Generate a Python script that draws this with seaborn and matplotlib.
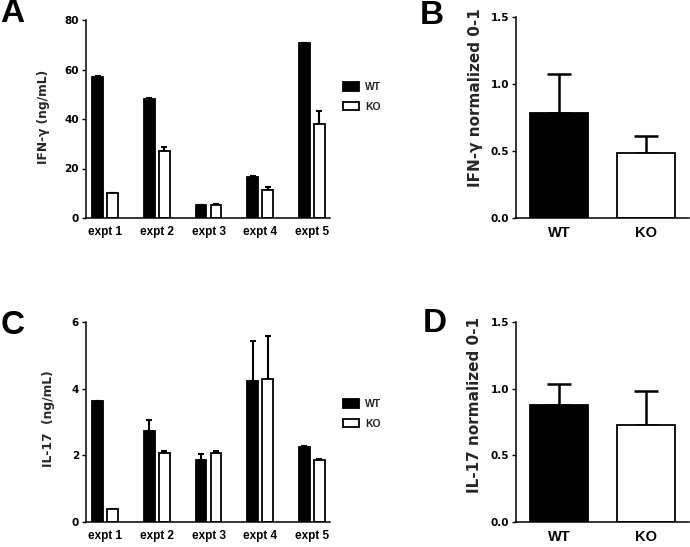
import matplotlib
matplotlib.use("Agg")
import matplotlib.pyplot as plt
import seaborn as sns
import pandas as pd
import numpy as np

# ---- data ----
expts = ["expt 1", "expt 2", "expt 3", "expt 4", "expt 5"]
groups = ["WT", "KO"]

ifn_wt = [57.0, 48.1, 5.1, 16.5, 70.7]
ifn_wt_err = [0.2, 0.2, 0.3, 0.3, 0.2]
ifn_ko = [10.1, 26.9, 5.1, 11.2, 38.0]
ifn_ko_err = [0.2, 1.7, 0.5, 1.2, 5.3]

il17_wt = [3.62, 2.74, 1.86, 4.22, 2.24]
il17_wt_err = [0.02, 0.33, 0.19, 1.20, 0.04]
il17_ko = [0.38, 2.06, 2.08, 4.28, 1.86]
il17_ko_err = [0.01, 0.08, 0.05, 1.31, 0.03]

ifn_norm = [0.784, 0.483]
ifn_norm_err = [0.291, 0.131]
il17_norm = [0.88, 0.73]
il17_norm_err = [0.157, 0.25]

sns.set_theme(style="ticks")
plt.rcParams["font.family"] = ["Liberation Sans", "DejaVu Sans"]
plt.rcParams["font.weight"] = "bold"
plt.rcParams["axes.labelweight"] = "bold"

WIDE = ["DejaVu Sans"]

W, H = 690, 547
fig = plt.figure(figsize=(W / 100, H / 100), dpi=100)

def px_axes(l, r, t, b):
    return fig.add_axes([l / W, (H - b) / H, (r - l) / W, (b - t) / H])

palette = {"WT": "black", "KO": "white"}

def style_axes(ax, xsize, xfamily):
    sns.despine(ax=ax)
    for s in ["left", "bottom"]:
        ax.spines[s].set_linewidth(1.1)
        ax.spines[s].set_color("black")
    ax.tick_params(axis="y", direction="out", length=3, width=1, pad=2, colors="black")
    ax.tick_params(axis="x", length=0, pad=6, colors="black")
    for t in ax.get_yticklabels():
        t.set_fontweight("bold")
        t.set_family(WIDE)
        t.set_fontsize(7.5)
    for t in ax.get_xticklabels():
        t.set_fontweight("bold")
        t.set_family(xfamily)
        t.set_fontsize(xsize)

def add_errs(ax, errs_by_hue, capsize, lw):
    for cont, errs in zip(ax.containers, errs_by_hue):
        for bar, e in zip(cont, errs):
            x = bar.get_x() + bar.get_width() / 2
            y = bar.get_height()
            ax.errorbar([x], [y], yerr=[[0], [e]], fmt="none", ecolor="black",
                        elinewidth=lw, capsize=capsize, capthick=lw, zorder=0.5)

def grouped(ax, wt, ko, wt_err, ko_err, ylim, yticks, ylabel, leg_y, lab_xy):
    df = pd.DataFrame({
        "expt": expts * 2,
        "group": ["WT"] * 5 + ["KO"] * 5,
        "value": list(wt) + list(ko),
    })
    sns.barplot(data=df, x="expt", y="value", hue="group", hue_order=groups,
                palette=palette, edgecolor="black", linewidth=1.3,
                width=0.58, gap=0.27, ax=ax, errorbar=None)
    add_errs(ax, [wt_err, ko_err], capsize=2.2, lw=1.5)
    ax.set_ylim(*ylim)
    ax.set_yticks(yticks)
    ax.set_xlim(-0.37, 4.35)
    ax.set_xlabel("")
    ax.set_ylabel(ylabel, fontsize=8.8, fontweight="bold", family=WIDE)
    ax.yaxis.set_label_coords(*lab_xy)
    handles, labels = ax.get_legend_handles_labels()
    ax.legend(handles, labels, loc="center left",
              bbox_to_anchor=(334 / W, (H - leg_y) / H), bbox_transform=fig.transFigure,
              frameon=False, handlelength=1.5, handleheight=0.9,
              labelspacing=0.9, handletextpad=0.6,
              prop={"weight": "bold", "size": 7.5, "family": "Liberation Sans"})
    style_axes(ax, 8.5, ["Liberation Sans"])

def summary(ax, vals, errs, ylabel, lab_xy):
    df = pd.DataFrame({"group": groups, "value": vals})
    sns.barplot(data=df, x="group", y="value", hue="group", hue_order=groups,
                palette=palette, edgecolor="black", linewidth=1.3,
                width=0.67, ax=ax, errorbar=None, legend=False)
    for cont, e in zip(ax.containers, errs):
        for bar in cont:
            if np.isnan(bar.get_height()) or bar.get_height() == 0:
                continue
            x = bar.get_x() + bar.get_width() / 2
            y = bar.get_height()
            ax.errorbar([x], [y], yerr=[[0], [e]], fmt="none", ecolor="black",
                        elinewidth=1.8, capsize=8.5, capthick=1.8, zorder=0.5)
    ax.set_ylim(0, 1.5)
    ax.set_yticks([0.0, 0.5, 1.0, 1.5])
    ax.set_yticklabels(["0.0", "0.5", "1.0", "1.5"])
    ax.set_xlim(-0.5, 1.5)
    ax.set_xlabel("")
    ax.set_ylabel(ylabel, fontsize=11, fontweight="bold", family=WIDE)
    ax.yaxis.set_label_coords(*lab_xy)
    style_axes(ax, 10.5, ["Liberation Sans"])

axA = px_axes(86, 330, 20, 218)
grouped(axA, ifn_wt, ifn_ko, ifn_wt_err, ifn_ko_err, (0, 80), [0, 20, 40, 60, 80],
        "IFN-γ (ng/mL)", 97, (-0.148, 0.51))

axB = px_axes(516, 689, 17, 218)
summary(axB, ifn_norm, ifn_norm_err, "IFN-γ normalized 0-1", (-0.19, 0.597))

axC = px_axes(86, 330, 322, 522)
grouped(axC, il17_wt, il17_ko, il17_wt_err, il17_ko_err, (0, 6), [0, 2, 4, 6],
        "IL-17  (ng/mL)", 414, (-0.127, 0.515))

axD = px_axes(516, 689, 322, 522)
summary(axD, il17_norm, il17_norm_err, "IL-17 normalized 0-1", (-0.196, 0.585))

for letter, x, y in [("A", 0, 14), ("B", 420, 15), ("C", 1, 325), ("D", 423, 324)]:
    fig.text(x / W, (H - y) / H, letter, fontsize=24, fontweight="bold",
             va="center", ha="left", color="black", family=["Liberation Sans"])

fig.savefig("out.png", dpi=100, facecolor="white")
